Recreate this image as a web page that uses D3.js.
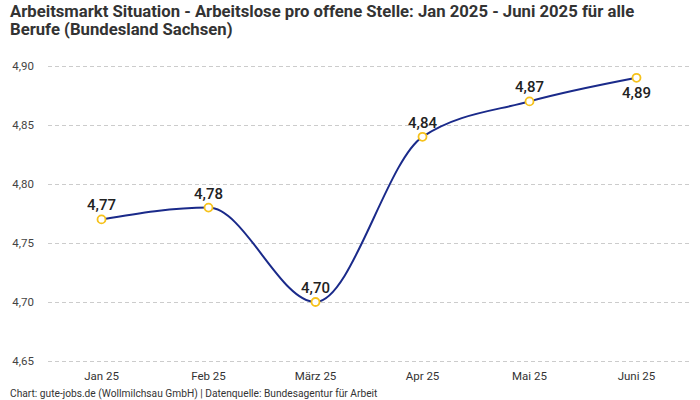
<!DOCTYPE html>
<html>
<head>
<meta charset="utf-8">
<script src="https://cdn.jsdelivr.net/npm/d3@7"></script>
<style>
  body { margin: 0; background: #fff; }
  svg { font-family: Roboto, "Noto Sans", sans-serif; }
</style>
</head>
<body>
<svg id="chart" width="700" height="400"></svg>
<script>
// Daten
const months = ['Jan 25', 'Feb 25', 'März 25', 'Apr 25', 'Mai 25', 'Juni 25'];
const values = [4.77, 4.78, 4.70, 4.84, 4.87, 4.89];
const yTicks = [4.65, 4.70, 4.75, 4.80, 4.85, 4.90];

const svg = d3.select('#chart');
const fmt = d => d.toFixed(2).replace('.', ',');

// Titel
svg.append('text')
    .attr('x', 10).attr('y', 17)
    .attr('font-size', 16.7).attr('font-weight', 'bold').attr('fill', '#333')
    .text('Arbeitsmarkt Situation - Arbeitslose pro offene Stelle: Jan 2025 - Juni 2025 für alle');
svg.append('text')
    .attr('x', 10).attr('y', 35)
    .attr('font-size', 16.7).attr('font-weight', 'bold').attr('fill', '#333')
    .text('Berufe (Bundesland Sachsen)');

// Skalen
const x = d3.scaleBand().domain(months).range([48, 690]);
const y = d3.scaleLinear().domain([4.65, 4.90]).range([361, 66]);

// Gitterlinien + y-Achse
const yAxis = svg.append('g')
    .attr('transform', 'translate(48,0)')
    .call(d3.axisLeft(y).tickValues(yTicks).tickFormat(fmt).tickSize(-642).tickPadding(14));
yAxis.select('.domain').remove();
yAxis.selectAll('line').attr('stroke', '#ccc').attr('stroke-dasharray', '4,3');
yAxis.selectAll('text').attr('font-size', 11.5).attr('fill', '#444')
    .attr('font-family', 'Roboto, sans-serif');

// x-Achse
const xAxis = svg.append('g')
    .attr('transform', 'translate(0,361)')
    .call(d3.axisBottom(x).tickSize(0).tickPadding(11));
xAxis.select('.domain').remove();
xAxis.selectAll('text').attr('font-size', 11.5).attr('fill', '#333')
    .attr('font-family', 'Roboto, sans-serif');

const cx = d => x(d) + x.bandwidth() / 2;

// Linie
const line = d3.line()
    .x((d, i) => cx(months[i]))
    .y(d => y(d))
    .curve(d3.curveMonotoneX);

svg.append('path')
    .datum(values)
    .attr('d', line)
    .attr('fill', 'none')
    .attr('stroke', '#1a2a8a')
    .attr('stroke-width', 2);

// Punkte
svg.selectAll('circle.pt')
    .data(values)
    .enter()
    .append('circle')
    .attr('class', 'pt')
    .attr('cx', (d, i) => cx(months[i]))
    .attr('cy', d => y(d))
    .attr('r', 4)
    .attr('fill', '#fff')
    .attr('stroke', '#f6c21c')
    .attr('stroke-width', 1.8);

// Werte-Beschriftungen
svg.selectAll('text.lbl')
    .data(values)
    .enter()
    .append('text')
    .attr('class', 'lbl')
    .attr('x', (d, i) => cx(months[i]))
    .attr('y', (d, i) => i === values.length - 1 ? y(d) + 20 : y(d) - 9)
    .attr('text-anchor', 'middle')
    .attr('font-size', 15)
    .attr('font-weight', 500)
    .attr('fill', '#222')
    .text(fmt);

// Quelle
svg.append('text')
    .attr('x', 10).attr('y', 397)
    .attr('font-size', 10.2).attr('fill', '#333')
    .text('Chart: gute-jobs.de (Wollmilchsau GmbH) | Datenquelle: Bundesagentur für Arbeit');
</script>
</body>
</html>
